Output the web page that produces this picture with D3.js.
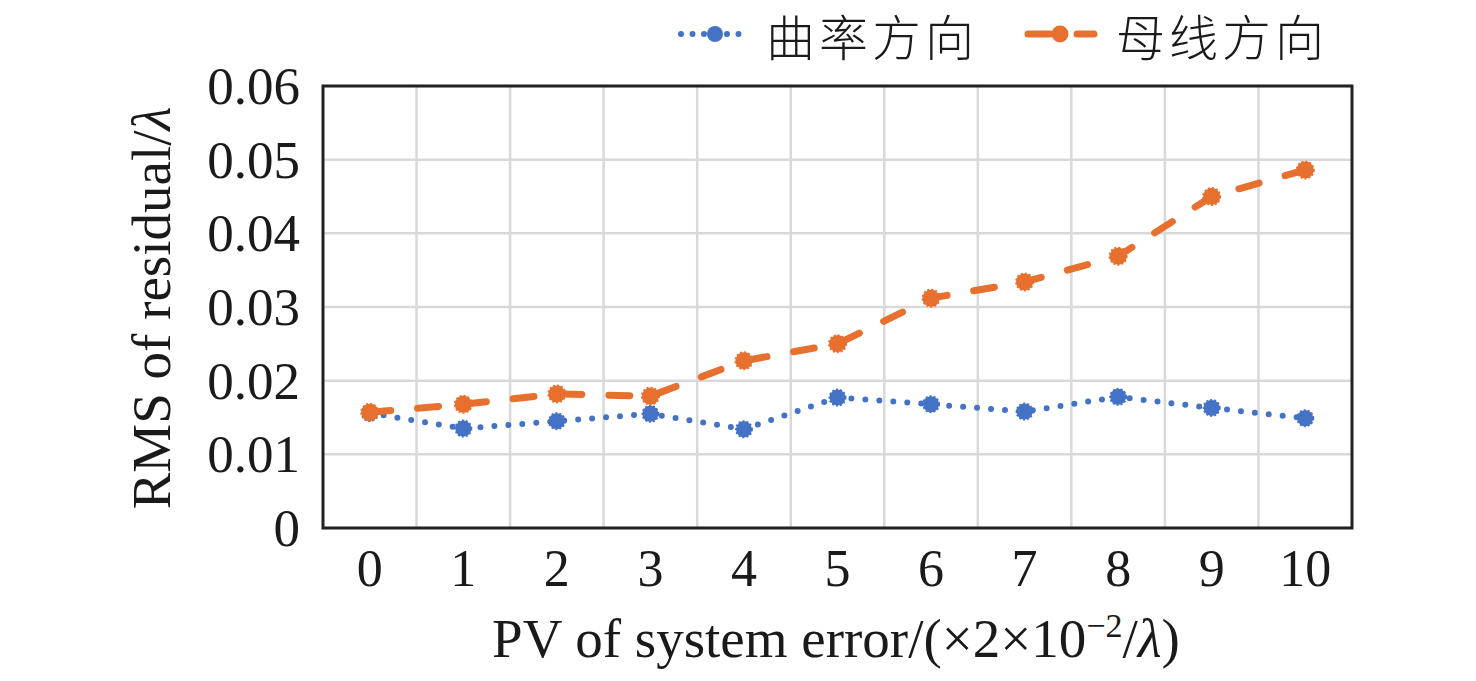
<!DOCTYPE html>
<html>
<head>
<meta charset="utf-8">
<script src="https://cdn.jsdelivr.net/npm/d3@7"></script>
<style>
  body { margin: 0; background: #fff; }
  text { font-family: "Liberation Serif", "Times New Roman", serif; fill: #1a1a1a; }
</style>
</head>
<body>
<div id="chart"></div>
<script>
// data
var categories = ["0", "1", "2", "3", "4", "5", "6", "7", "8", "9", "10"];
var curvature = [0.0156, 0.0135, 0.0145, 0.0155, 0.0134, 0.0177, 0.0168, 0.0158, 0.0178, 0.0163, 0.0149];
var generatrix = [0.0157, 0.0168, 0.0182, 0.0179, 0.0227, 0.0250, 0.0312, 0.0334, 0.0369, 0.0450, 0.0486];
var yTicks = [0, 0.01, 0.02, 0.03, 0.04, 0.05, 0.06];
var seriesNames = ["曲率方向", "母线方向"];

var W = 1476, H = 681;
var margin = {top: 86, right: 124, bottom: 153, left: 323};

var blue = "#4472C4", orange = "#E8702F";

var svg = d3.select("#chart").append("svg")
    .attr("width", W)
    .attr("height", H);

var x = d3.scaleBand()
    .domain(categories)
    .range([margin.left, W - margin.right]);

var y = d3.scaleLinear()
    .domain([0, 0.06])
    .range([H - margin.bottom, margin.top]);

// grid
var grid = svg.append("g").attr("class", "grid");
grid.selectAll(".hgrid")
    .data(yTicks)
    .join("line")
    .attr("x1", x.range()[0])
    .attr("x2", x.range()[1])
    .attr("y1", d => y(d))
    .attr("y2", d => y(d))
    .attr("stroke", "#d9d9d9")
    .attr("stroke-width", 2.5);

grid.selectAll(".vgrid")
    .data(categories.slice(1))
    .join("line")
    .attr("x1", d => x(d))
    .attr("x2", d => x(d))
    .attr("y1", y(0))
    .attr("y2", y(0.06))
    .attr("stroke", "#d9d9d9")
    .attr("stroke-width", 2.5);

// frame
svg.append("rect")
    .attr("x", x.range()[0])
    .attr("y", y(0.06))
    .attr("width", x.range()[1] - x.range()[0])
    .attr("height", y(0) - y(0.06))
    .attr("fill", "none")
    .attr("stroke", "#222")
    .attr("stroke-width", 3);

// axes
var yAxis = svg.append("g")
    .attr("transform", "translate(" + (margin.left - 23) + ",0)")
    .call(d3.axisLeft(y).tickValues(yTicks).tickSize(0).tickPadding(0)
      .tickFormat(d => d === 0 ? "0" : d3.format(".2f")(d)));
yAxis.select(".domain").remove();
yAxis.selectAll("text")
    .style("font-family", "Liberation Serif")
    .style("font-size", "53px")
    .attr("fill", "#1a1a1a")
    .attr("dy", "0.33em");

var xAxis = svg.append("g")
    .attr("transform", "translate(0," + (y(0) + 58) + ")")
    .call(d3.axisBottom(x).tickSize(0).tickPadding(0));
xAxis.select(".domain").remove();
xAxis.selectAll("text")
    .style("font-family", "Liberation Serif")
    .style("font-size", "52px")
    .attr("fill", "#1a1a1a")
    .attr("dy", 0);

// axis titles
var xt = svg.append("text")
    .attr("x", 836)
    .attr("y", 657)
    .attr("text-anchor", "middle")
    .style("font-size", "55px");
xt.append("tspan").text("PV of system error/(×2×10");
xt.append("tspan").text("−2").attr("dy", -20).style("font-size", "34px");
xt.append("tspan").text("/").attr("dy", 20);
xt.append("tspan").text("λ").style("font-style", "italic");
xt.append("tspan").text(")");

var yt = svg.append("text")
    .attr("transform", "translate(170," + 308 + ") rotate(-90)")
    .attr("text-anchor", "middle")
    .style("font-size", "55px");
yt.append("tspan").text("RMS of residual/");
yt.append("tspan").text("λ").style("font-style", "italic");

// lines
var line = d3.line()
    .x((d, i) => x(categories[i]) + x.bandwidth() / 2)
    .y(d => y(d));

svg.append("path")
    .datum(curvature)
    .attr("d", line)
    .attr("fill", "none")
    .attr("stroke", blue)
    .attr("stroke-width", 6)
    .attr("stroke-linecap", "round")
    .attr("stroke-dasharray", "0 14");

svg.append("path")
    .datum(generatrix)
    .attr("d", line)
    .attr("fill", "none")
    .attr("stroke", orange)
    .attr("stroke-width", 7)
    .attr("stroke-linecap", "round")
    .attr("stroke-dasharray", "21 27");

function markers(data, color, r) {
  svg.append("g").selectAll("circle")
    .data(data)
    .join("circle")
    .attr("cx", (d, i) => x(categories[i]) + x.bandwidth() / 2)
    .attr("cy", d => y(d))
    .attr("r", r)
    .attr("fill", color)
    .attr("stroke", color)
    .attr("stroke-width", 2)
    .attr("stroke-dasharray", "2 2");
}
markers(curvature, blue, 8);
markers(generatrix, orange, 8.5);

// legend
var legendY = 34;
var legend = svg.append("g").attr("class", "legend");
legend.append("line")
    .attr("x1", 681).attr("x2", 743).attr("y1", legendY).attr("y2", legendY)
    .attr("stroke", blue).attr("stroke-width", 6)
    .attr("stroke-linecap", "round").attr("stroke-dasharray", "0 11.5");
legend.append("circle").attr("cx", 715).attr("cy", legendY).attr("r", 8).attr("fill", blue);
legend.append("text")
    .attr("x", 766).attr("y", 56)
    .style("font-family", "'Noto Sans CJK SC'")
    .style("font-size", "49px")
    .style("font-weight", 300)
    .style("letter-spacing", "4px")
    .text(seriesNames[0]);

legend.append("line")
    .attr("x1", 1028).attr("x2", 1094).attr("y1", legendY).attr("y2", legendY)
    .attr("stroke", orange).attr("stroke-width", 7)
    .attr("stroke-linecap", "round").attr("stroke-dasharray", "22 27");
legend.append("circle").attr("cx", 1060).attr("cy", legendY).attr("r", 8.5).attr("fill", orange);
legend.append("text")
    .attr("x", 1116).attr("y", 56)
    .style("font-family", "'Noto Sans CJK SC'")
    .style("font-size", "49px")
    .style("font-weight", 300)
    .style("letter-spacing", "4px")
    .text(seriesNames[1]);
</script>
</body>
</html>
